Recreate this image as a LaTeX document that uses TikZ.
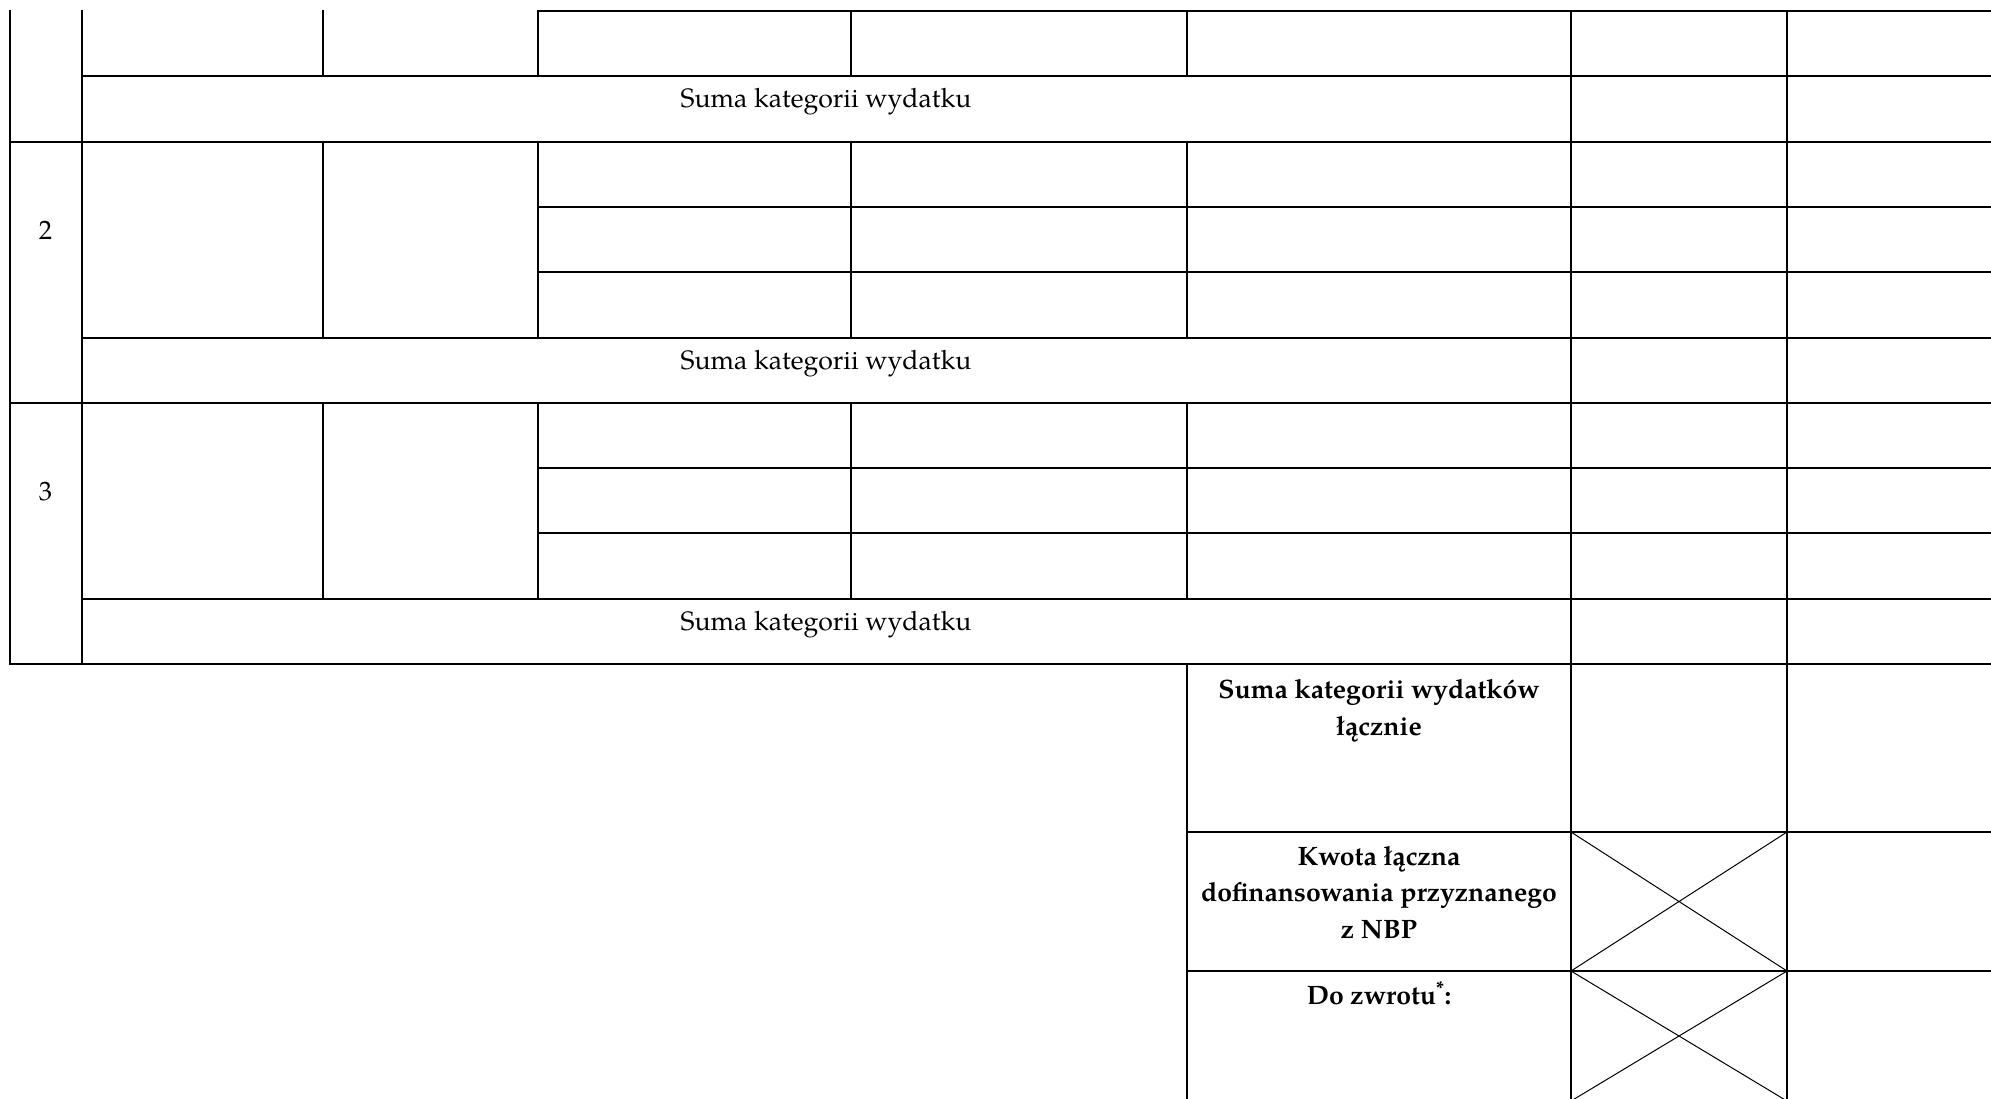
\documentclass[tikz,border=0pt]{standalone}
\usepackage{fontspec}
\setmainfont{texgyrepagella}[Extension=.otf, UprightFont=*-regular, BoldFont=*-bold, ItalicFont=*-italic, BoldItalicFont=*-bolditalic]
\begin{document}
\begin{tikzpicture}[x=1pt,y=-1pt,
  grid/.style={line width=2pt, line cap=rect},
  cross/.style={line width=1pt},
  lbl/.style={font=\fontsize{26.6}{36.5}\selectfont, inner sep=0pt, anchor=base, align=center},
  blbl/.style={lbl, font=\fontsize{26.6}{36.5}\selectfont\bfseries}]
\useasboundingbox (0,0) rectangle (1991,1098);
\clip (0,0) rectangle (1991,1098);
% column positions
\def\xa{9.5}\def\xb{81.5}\def\xc{322.5}\def\xd{538}\def\xe{851}\def\xf{1187}\def\xg{1571}\def\xh{1787}\def\xr{1995}
% vertical lines
\draw[grid] (\xa,11) -- (\xa,664);
\draw[grid] (\xb,11) -- (\xb,664);
\foreach \xx in {\xc,\xd,\xe,\xf}{
  \draw[grid] (\xx,11) -- (\xx,76);
  \draw[grid] (\xx,141.5) -- (\xx,338);
  \draw[grid] (\xx,403) -- (\xx,598.5);
}
\draw[grid] (\xf,664) -- (\xf,1110);
\draw[grid] (\xg,11) -- (\xg,1110);
\draw[grid] (\xh,11) -- (\xh,1110);
% horizontal lines
\draw[grid] (\xd,11) -- (\xr,11);
\foreach \yy in {76,338,598.5}{\draw[grid] (\xb,\yy) -- (\xr,\yy);}
\foreach \yy in {141.5,403,664}{\draw[grid] (\xa,\yy) -- (\xr,\yy);}
\foreach \yy in {207,272,467.5,533}{\draw[grid] (\xd,\yy) -- (\xr,\yy);}
\foreach \yy in {832,971}{\draw[grid] (\xf,\yy) -- (\xr,\yy);}
% crossed cells
\draw[cross] (\xg,832) -- (\xh,971) (\xg,971) -- (\xh,832);
\draw[cross] (\xg,971) -- (\xh,1101) (\xg,1101) -- (\xh,971);
% texts
\node[lbl] (s1) at (826,107) {Suma kategorii wydatku};
\node[lbl] (s2) at (826,369) {Suma kategorii wydatku};
\node[lbl] (s3) at (826,630) {Suma kategorii wydatku};
\node[lbl] (n2) at (45.5,239) {2};
\node[lbl] (n3) at (45.5,500) {3};
% multi-line nodes: base anchor sits on the last line
\node[blbl] (tot) at (1379,735) {Suma kategorii wydatków\\łącznie};
\node[blbl] (kw) at (1379,938) {Kwota łączna\\dofinansowania przyznanego\\z NBP};
\node[blbl] (dz) at (1379,1004) {Do zwrotu\textsuperscript{*}:};
\end{tikzpicture}
\end{document}
